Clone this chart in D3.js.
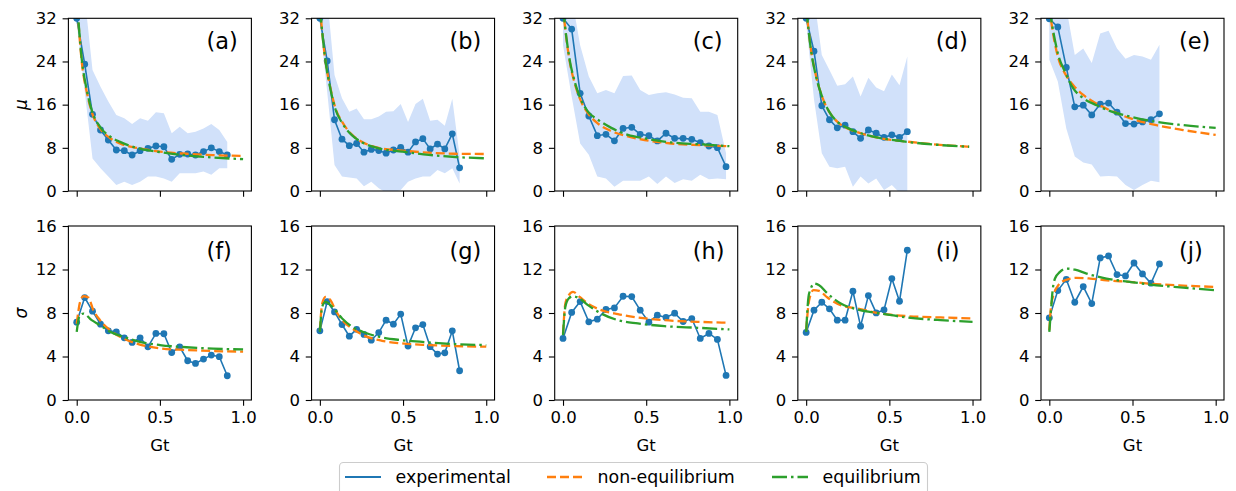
<!DOCTYPE html>
<html><head><meta charset="utf-8">
<script src="https://cdn.jsdelivr.net/npm/d3@7"></script>
<style>body{margin:0;background:#fff}svg{display:block}text{font-family:"DejaVu Sans",sans-serif}</style>
</head><body><svg id="c" width="1236" height="491"></svg>
<script>
// ---------- data ----------
const panelLabelsTop = ["(a)","(b)","(c)","(d)","(e)"];
const panelLabelsBot = ["(f)","(g)","(h)","(i)","(j)"];
const xTicks = [0, 0.5, 1.0];
const muTicks = [0, 8, 16, 24, 32];
const sigTicks = [0, 4, 8, 12, 16];
const legendLabels = ["experimental", "non-equilibrium", "equilibrium"];

const gtA = [0,0.048,0.095,0.143,0.19,0.238,0.286,0.333,0.381,0.428,0.476,0.524,0.571,0.619,0.667,0.714,0.762,0.809,0.857,0.905];
const muA = [32,23.5,14.2,11.3,9.45,7.6,7.47,6.67,7.47,7.9,8.34,8.2,5.87,6.8,6.86,6.67,7.3,8.0,7.3,6.67];
const muLoA = [31,18.5,6.0,4.2,2.7,1.1,1.7,1.1,1.7,2.7,2.7,2.3,1.7,3.3,3.3,3.3,3.6,3.0,4.2,4.2];
const muHiA = [36,36,22.4,19.3,16.6,14.1,13.5,12.4,13.5,13.0,14.6,14.4,10.7,11.9,10.7,11.0,11.6,12.4,11.3,9.1];
const sigA = [7.16,9.42,8.17,6.97,6.36,6.27,5.72,5.29,5.72,4.89,6.12,6.09,4.37,4.89,3.61,3.36,3.76,4.13,3.98,2.23];

const gtB = [0,0.044,0.088,0.133,0.177,0.221,0.265,0.309,0.354,0.398,0.442,0.486,0.53,0.575,0.619,0.663,0.707,0.751,0.796,0.84];
const muB = [32,24.1,13.2,9.6,8.4,8.8,7.2,7.7,7.5,7.0,7.6,8.1,7.2,9.1,9.7,7.8,8.7,7.8,10.6,4.3];
const muLoB = [31,18.4,4.8,2.7,2.5,2.3,0.9,1.7,0.5,-0.3,-0.3,0.2,1.7,2.3,2.7,2.7,3.9,3.3,4.2,1.4];
const muHiB = [36,36,21.5,17.2,14.7,15.3,13.3,13.3,13.8,14.7,14.8,16.1,12.8,16.1,17.1,13.0,13.2,12.1,17.1,6.5];
const sigB = [6.36,9.05,8.1,6.94,5.87,6.5,6.03,5.5,6.2,7.34,6.97,7.9,4.96,6.64,6.94,4.9,4.22,4.34,6.36,2.69];

const gtC = [0,0.052,0.103,0.155,0.206,0.258,0.309,0.361,0.413,0.464,0.516,0.567,0.619,0.671,0.722,0.774,0.825,0.877,0.928,0.98];
const muC = [32,30.0,18.1,13.9,10.25,10.5,9.3,11.6,11.8,10.5,10.25,9.27,10.7,9.76,9.76,9.57,8.96,8.34,8.03,4.5];
const muLoC = [27,17.5,8.8,6.7,2.7,2.3,0.8,1.9,1.9,1.9,2.7,1.3,2.7,1.5,2.2,1.9,3.0,2.2,2.3,2.2];
const muHiC = [36,36,27,21.2,18.1,18.7,18.1,21.3,21.4,18.7,17.8,18.1,18.3,17.9,17.3,17.2,14.7,14.7,14.1,7.0];
const sigC = [5.66,8.05,9.05,7.19,7.43,8.32,8.47,9.54,9.51,8.26,7.16,7.8,7.59,7.98,7.22,7.49,5.66,6.12,5.57,2.26];

const gtD = [0,0.047,0.094,0.14,0.187,0.234,0.281,0.327,0.374,0.421,0.468,0.515,0.561,0.608];
const muD = [32,25.9,15.8,13.2,11.7,12.2,11.0,9.76,11.3,10.7,9.94,10.4,9.94,11.0];
const muLoD = [31,17,7.0,4.5,4.2,4.5,0.8,2.7,1.4,2.3,0.2,1.1,-0.3,-0.5];
const muHiD = [36,36,25.2,22.4,19.5,19.8,21.2,17.5,21.0,19.2,18.5,21.6,19.6,24.9];
const sigD = [6.21,8.26,8.99,8.38,7.34,7.34,10.0,6.79,9.6,8.01,8.29,11.17,9.08,13.77];

const gtE = [0,0.051,0.102,0.153,0.204,0.255,0.306,0.356,0.407,0.458,0.509,0.56,0.611,0.662];
const muE = [31.9,30.4,22.9,15.6,15.9,14.1,16.1,16.3,14.6,12.5,12.4,12.8,13.2,14.3];
const muLoE = [24.3,20.3,11.6,6.4,5.3,4.9,2.7,2.8,2.7,1.1,0.2,1.1,1.9,1.6];
const muHiE = [38,38,34,25.2,26.4,23.7,29.2,29.7,26.4,24.5,25.2,24.9,24.3,27.1];
const sigE = [7.56,10.06,11.1,8.99,10.43,8.87,13.06,13.25,11.53,11.41,12.6,11.59,10.74,12.51];

// model curves [Gt, value]
const neqMuA = [[0,36],[0.03,24],[0.06,18.4],[0.09,14.7],[0.14,11.6],[0.2,9.8],[0.26,8.8],[0.36,8.0],[0.5,7.3],[0.66,6.9],[0.82,6.65],[1.0,6.5]];
const eqMuA  = [[0,36],[0.03,24.5],[0.06,18.8],[0.09,15.0],[0.14,11.9],[0.2,10.1],[0.26,9.1],[0.36,8.0],[0.5,7.2],[0.66,6.6],[0.82,6.2],[1.0,5.9]];
const neqMuB = [[0,34],[0.034,24],[0.064,19],[0.094,15.3],[0.134,12.8],[0.194,10.4],[0.254,9.1],[0.354,8.0],[0.494,7.5],[0.654,7.1],[0.814,6.9],[1.0,6.85]];
const eqMuB  = [[0,34],[0.034,24],[0.064,18.8],[0.094,15.1],[0.134,12.6],[0.194,10.3],[0.254,9.0],[0.354,7.9],[0.494,7.3],[0.654,6.7],[0.814,6.3],[1.0,6.05]];
const neqMuC = [[0,34],[0.02,28.3],[0.04,24],[0.07,20],[0.1,17.2],[0.15,14.4],[0.21,12.5],[0.29,11.1],[0.39,10.1],[0.49,9.45],[0.65,8.8],[0.82,8.5],[1.0,8.3]];
const eqMuC  = [[0,34],[0.02,28.5],[0.04,24.3],[0.07,20.3],[0.1,17.5],[0.15,14.7],[0.21,13.2],[0.29,11.7],[0.39,10.4],[0.49,9.76],[0.65,9.0],[0.82,8.65],[1.0,8.3]];
const neqMuD = [[0,34],[0.028,26.4],[0.058,21.5],[0.092,17.8],[0.138,14.7],[0.188,12.8],[0.248,11.6],[0.328,10.7],[0.448,9.76],[0.608,9.14],[0.768,8.65],[0.98,8.2]];
const eqMuD  = [[0,34],[0.028,26.3],[0.058,21.4],[0.092,17.8],[0.138,14.7],[0.188,12.8],[0.248,11.7],[0.328,10.7],[0.448,9.8],[0.608,9.1],[0.768,8.6],[0.98,8.2]];
const neqMuE = [[0,34],[0.024,28.9],[0.054,24.6],[0.094,21.8],[0.144,19.6],[0.204,17.8],[0.284,16.2],[0.384,14.7],[0.484,13.5],[0.644,12.2],[0.804,11.3],[1.0,10.4]];
const eqMuE  = [[0,34],[0.024,29.5],[0.054,25.2],[0.094,22.1],[0.144,19.0],[0.204,17.2],[0.284,15.9],[0.384,14.6],[0.484,13.8],[0.644,12.8],[0.804,12.2],[1.0,11.7]];

const neqSigA = [[0,7.0],[0.02,9.0],[0.04,9.54],[0.07,9.42],[0.1,8.26],[0.14,7.34],[0.2,6.42],[0.28,5.66],[0.38,5.1],[0.5,4.75],[0.66,4.6],[0.82,4.5],[1.0,4.45]];
const eqSigA  = [[0,6.27],[0.016,7.7],[0.04,7.95],[0.09,7.34],[0.14,6.88],[0.2,6.27],[0.28,5.81],[0.38,5.35],[0.5,5.05],[0.66,4.85],[0.82,4.72],[1.0,4.65]];
const neqSigB = [[0,6.4],[0.014,8.87],[0.034,9.48],[0.064,9.18],[0.094,8.26],[0.134,7.34],[0.194,6.58],[0.274,5.87],[0.374,5.44],[0.494,5.2],[0.654,5.05],[0.814,4.96],[1.0,4.9]];
const eqSigB  = [[0,6.27],[0.014,8.57],[0.034,9.02],[0.074,8.57],[0.134,7.5],[0.194,6.73],[0.274,6.18],[0.374,5.75],[0.494,5.5],[0.654,5.29],[0.814,5.14],[1.0,5.05]];
const neqSigC = [[0,6.1],[0.014,8.87],[0.034,9.63],[0.06,9.94],[0.1,9.48],[0.15,8.87],[0.23,8.26],[0.33,7.89],[0.45,7.59],[0.61,7.34],[0.81,7.19],[1.0,7.1]];
const eqSigC  = [[0,5.97],[0.014,8.57],[0.034,9.33],[0.06,9.54],[0.1,9.33],[0.15,8.72],[0.23,7.95],[0.33,7.34],[0.45,7.04],[0.61,6.79],[0.81,6.64],[1.0,6.49]];
const neqSigD = [[0,6.4],[0.018,9.18],[0.044,10.1],[0.078,10.03],[0.128,9.42],[0.208,8.72],[0.308,8.41],[0.448,7.95],[0.608,7.71],[0.808,7.59],[1.0,7.5]];
const eqSigD  = [[0,6.27],[0.014,9.48],[0.028,10.25],[0.048,10.71],[0.078,10.55],[0.128,9.79],[0.208,8.87],[0.308,8.32],[0.448,7.95],[0.608,7.59],[0.808,7.34],[1.0,7.19]];
const neqSigE = [[0,6.4],[0.01,8.57],[0.028,9.79],[0.054,10.55],[0.094,11.01],[0.164,11.23],[0.244,11.17],[0.344,11.01],[0.484,10.86],[0.644,10.65],[0.804,10.52],[1.0,10.4]];
const eqSigE  = [[0,6.27],[0.01,8.26],[0.02,10.1],[0.034,11.17],[0.064,11.78],[0.104,12.08],[0.154,11.99],[0.224,11.62],[0.344,11.17],[0.484,10.86],[0.644,10.55],[0.804,10.34],[1.0,10.09]];

// ---------- table built from the arrays ----------
const cols = [
  {gt:gtA, mu:muA, lo:muLoA, hi:muHiA, sig:sigA, nM:neqMuA, eM:eqMuA, nS:neqSigA, eS:eqSigA},
  {gt:gtB, mu:muB, lo:muLoB, hi:muHiB, sig:sigB, nM:neqMuB, eM:eqMuB, nS:neqSigB, eS:eqSigB},
  {gt:gtC, mu:muC, lo:muLoC, hi:muHiC, sig:sigC, nM:neqMuC, eM:eqMuC, nS:neqSigC, eS:eqSigC},
  {gt:gtD, mu:muD, lo:muLoD, hi:muHiD, sig:sigD, nM:neqMuD, eM:eqMuD, nS:neqSigD, eS:eqSigD},
  {gt:gtE, mu:muE, lo:muLoE, hi:muHiE, sig:sigE, nM:neqMuE, eM:eqMuE, nS:neqSigE, eS:eqSigE}
];

const C0 = "#1f77b4", C1 = "#ff7f0e", C2 = "#2ca02c", BAND = "#d1e1fa";
const FS = 16.5;
const svg = d3.select("#c");
svg.append("rect").attr("width",1236).attr("height",491).attr("fill","#fff");

const left0 = 68.4, step = 243.15, W = 183;
const rows = [{top:18.3, bot:191, dom:[0,32], ticks:muTicks},
              {top:226, bot:400, dom:[0,16], ticks:sigTicks}];

cols.forEach((c, i) => {
  const L = left0 + i*step;
  const x = d3.scaleLinear().domain([-0.05,1.05]).range([L, L+W]);
  rows.forEach((r, ri) => {
    const y = d3.scaleLinear().domain(r.dom).range([r.bot, r.top]);
    const g = svg.append("g");
    const cid = "clip"+i+"_"+ri;
    svg.append("clipPath").attr("id",cid).append("rect")
      .attr("x",L).attr("y",r.top).attr("width",W).attr("height",r.bot-r.top);
    const pg = g.append("g").attr("clip-path","url(#"+cid+")");
    const line = d3.line().x(d=>x(d[0])).y(d=>y(d[1]));
    const smooth = d3.line().x(d=>x(d[0])).y(d=>y(d[1])).curve(d3.curveMonotoneX);
    if (ri === 0) {
      const bandData = c.gt.map((g0,k)=>[g0, c.lo[k], c.hi[k]]);
      pg.append("path").datum(bandData)
        .attr("d", d3.area().x(d=>x(d[0])).y0(d=>y(d[1])).y1(d=>y(d[2])))
        .attr("fill", BAND).attr("stroke","none");
    }
    const vals = ri===0 ? c.mu : c.sig;
    const pts = c.gt.map((g0,k)=>[g0, vals[k]]);
    pg.append("path").datum(pts).attr("d", line).attr("fill","none")
      .attr("stroke", C0).attr("stroke-width",1.6);
    pg.selectAll("circle").data(pts).join("circle")
      .attr("cx",d=>x(d[0])).attr("cy",d=>y(d[1])).attr("r",3.4).attr("fill",C0);
    const nm = ri===0 ? c.nM : c.nS, em = ri===0 ? c.eM : c.eS;
    pg.append("path").datum(nm).attr("d", smooth).attr("fill","none")
      .attr("stroke", C1).attr("stroke-width",2.3).attr("stroke-dasharray","9,4");
    pg.append("path").datum(em).attr("d", smooth).attr("fill","none")
      .attr("stroke", C2).attr("stroke-width",2.3).attr("stroke-dasharray","15,4,2.5,4");

    // axes
    const xa = d3.axisBottom(x).tickValues(xTicks).tickSize(5.8).tickPadding(5.8)
      .tickFormat(ri===1 ? d3.format(".1f") : ()=>"");
    const ya = d3.axisLeft(y).tickValues(r.ticks).tickSize(5.8).tickPadding(5.8).tickFormat(d3.format("d"));
    const gx = g.append("g").attr("transform","translate(0,"+r.bot+")").call(xa);
    const gy = g.append("g").attr("transform","translate("+L+",0)").call(ya);
    [gx,gy].forEach(a=>{
      a.select(".domain").remove();
      a.selectAll("line").attr("stroke","#000").attr("stroke-width",1.1);
      a.selectAll("text").attr("fill","#000").style("font-size",FS+"px").style("font-family","DejaVu Sans");
    });
    g.append("rect").attr("x",L).attr("y",r.top).attr("width",W).attr("height",r.bot-r.top)
      .attr("fill","none").attr("stroke","#000").attr("stroke-width",1.1);
    g.append("text").attr("x",L+138).attr("y", r.top + (ri===0?30.5:33))
      .style("font-size","22.5px").text(ri===0 ? panelLabelsTop[i] : panelLabelsBot[i]);
    if (ri===1) {
      g.append("text").attr("x",L+W/2).attr("y",451).attr("text-anchor","middle")
        .style("font-size",FS+"px").text("Gt");
    }
    if (i===0) {
      g.append("text").attr("transform","translate(27,"+((r.top+r.bot)/2)+") rotate(-90)")
        .attr("text-anchor","middle").style("font-size","17px").style("font-style","italic")
        .text(ri===0 ? "μ" : "σ");
    }
  });
});

// legend
const lg = svg.append("g");
lg.append("rect").attr("x",339.5).attr("y",462.5).attr("width",588).attr("height",40).attr("rx",4)
  .attr("fill","#fff").attr("fill-opacity",0.8).attr("stroke","#cccccc").attr("stroke-width",1.1);
const legX = [345, 547, 772];
const legStyle = [[C0,null],[C1,"9,4"],[C2,"15,4,2.5,4"]];
legendLabels.forEach((t,k)=>{
  const ln = lg.append("line").attr("x1",legX[k]).attr("x2",legX[k]+36).attr("y1",477).attr("y2",477)
    .attr("stroke",legStyle[k][0]).attr("stroke-width", k===0?1.8:2.3);
  if (legStyle[k][1]) ln.attr("stroke-dasharray",legStyle[k][1]);
  lg.append("text").attr("x",legX[k]+50.5).attr("y",483).style("font-size","17.4px").text(t);
});
</script></body></html>
